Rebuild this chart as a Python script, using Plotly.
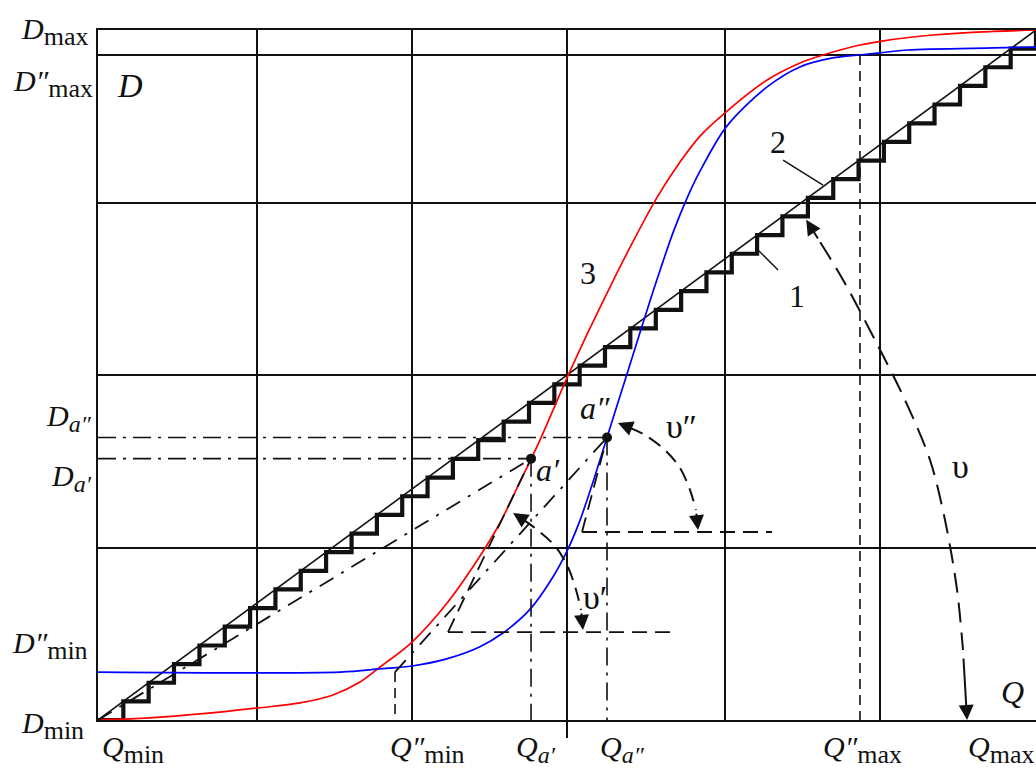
import plotly.graph_objects as go

# ---------------- data (Q along x, D along y) ----------------
Q_MIN, Q_MAX = 0.0, 6.0
D_MIN, D_MAX = 0.0, 4.0
D2_MAX = 3.855          # D''max
D2_MIN = 0.278          # D''min (flat part of the blue curve)
Q2_MIN = 1.90           # Q''min
Q2_MAX = 4.874          # Q''max
QA1, DA1 = 2.77, 1.515  # point a'
QA2, DA2 = 3.256, 1.638 # point a''

grid_q = [0, 1.02, 2.01, 3.0, 4.01, 5.0]
grid_d = [0, 1, 2, 3, D2_MAX, 4]
axis_tick_q = [3.0]

# curve 3 (red)
red_q = [0, 0.333, 0.652, 1.023, 1.292, 1.503, 1.676, 1.804, 2.009, 2.233, 2.456, 2.571, 2.699,
         2.827, 3.0, 3.128, 3.275, 3.403, 3.576, 3.723, 3.851, 4.024, 4.28, 4.491, 4.638, 4.874,
         5.015, 5.341, 5.623, 6.0]
red_d = [0, 0.012, 0.035, 0.07, 0.099, 0.145, 0.22, 0.307, 0.452, 0.678, 0.968, 1.142, 1.38,
         1.623, 1.983, 2.235, 2.51, 2.74, 3.03, 3.235, 3.385, 3.53, 3.71, 3.809, 3.855, 3.913,
         3.936, 3.971, 3.988, 4.0]

# blue curve
blue_q = [0, 1.55, 1.80, 2.01, 2.23, 2.44, 2.59, 2.76, 2.91, 3.006, 3.08, 3.13, 3.17, 3.256,
          3.34, 3.42, 3.51, 3.60, 3.68, 3.77, 3.85, 4.02, 4.28, 4.49, 4.70, 4.87, 5.0, 5.18, 5.73, 6.0]
blue_d = [0.278, 0.278, 0.296, 0.313, 0.354, 0.423, 0.504, 0.638, 0.829, 0.99, 1.15, 1.28, 1.39, 1.638,
          1.88, 2.11, 2.37, 2.62, 2.83, 3.03, 3.18, 3.44, 3.67, 3.786, 3.838, 3.855, 3.867,
          3.884, 3.896, 3.901]

# staircase 2 (37 equal steps along line 1)
step_q = [0, 0.162, 0.324, 0.486, 0.649, 0.811, 0.973, 1.135, 1.297, 1.459, 1.622, 1.784, 1.946,
          2.108, 2.270, 2.432, 2.595, 2.757, 2.919, 3.081, 3.243, 3.405, 3.568, 3.730, 3.892,
          4.054, 4.216, 4.378, 4.541, 4.703, 4.865, 5.027, 5.189, 5.351, 5.514, 5.676, 5.838, 6.0]
step_d = [0, 0.108, 0.216, 0.324, 0.432, 0.541, 0.649, 0.757, 0.865, 0.973, 1.081, 1.189, 1.297,
          1.405, 1.514, 1.622, 1.730, 1.838, 1.946, 2.054, 2.162, 2.270, 2.378, 2.486, 2.595,
          2.703, 2.811, 2.919, 3.027, 3.135, 3.243, 3.351, 3.459, 3.568, 3.676, 3.784, 3.892, 4.0]

# tangents and their horizontal bases
tan1_q, tan1_d = [2.239, QA1], [0.51, DA1]
base1_q, base1_d = [2.239, 3.71], [0.51, 0.51]
tan2_q, tan2_d = [3.096, QA2], [1.09, DA2]
base2_q, base2_d = [3.096, 4.311], [1.09, 1.09]

# angle arcs
arc1_q = [2.655, 2.72, 2.795, 2.923, 3.006, 3.058, 3.09, 3.102]          # upsilon'
arc1_d = [1.2, 1.162, 1.113, 1.009, 0.887, 0.754, 0.638, 0.522]
arc2_q = [3.326, 3.40, 3.499, 3.627, 3.723, 3.787, 3.825, 3.838]          # upsilon''
arc2_d = [1.722, 1.695, 1.652, 1.565, 1.461, 1.333, 1.217, 1.101]
arc3_q = [4.53, 4.62, 4.766, 4.97, 5.162, 5.322, 5.418, 5.495, 5.533, 5.559]  # upsilon
arc3_d = [2.9, 2.77, 2.551, 2.203, 1.855, 1.507, 1.159, 0.754, 0.406, 0.0]

# leader lines for labels 1 and 2
lead1_q, lead1_d = [4.222, 4.35], [2.725, 2.609]
lead2_q, lead2_d = [4.382, 4.638], [3.246, 3.101]

# ---------------- styling ----------------
FONT = "Liberation Serif, Times New Roman, serif"
BLACK = "#111111"
DASHDOT = "18px,7px,3px,7px"
DASH = "15px,8px"

def sub(s, size=26, italic=False):
    inner = "<i>%s</i>" % s if italic else s
    return "<sub><span style='font-size:%dpx'>%s</span></sub>" % (size, inner)

fig = go.Figure()

def line(x, y, width=2, dash="solid", color=BLACK, shape="linear"):
    fig.add_trace(go.Scatter(x=x, y=y, mode="lines", hoverinfo="skip", showlegend=False,
                             line=dict(color=color, width=width, dash=dash, shape=shape,
                                       smoothing=0.9 if shape == "spline" else None)))

# diagonal 1
line([Q_MIN, Q_MAX], [D_MIN, D_MAX], width=1.6)
# staircase 2
sx, sy = [step_q[0]], [step_d[0]]
for k in range(len(step_q) - 1):
    sx += [step_q[k + 1], step_q[k + 1]]
    sy += [step_d[k], step_d[k + 1]]
line(sx, sy, width=4.2)

# curves
line(red_q, red_d, width=1.7, color="#ff0000", shape="spline")
line(blue_q, blue_d, width=1.7, color="#0000ff", shape="spline")

# dash-dot reference lines
line([0, QA2], [DA2, DA2], width=1.6, dash=DASHDOT)
line([0, QA1], [DA1, DA1], width=1.6, dash=DASHDOT)
line([QA1, QA1], [DA1, 0], width=1.6, dash=DASHDOT)
line([QA2, QA2], [DA2, 0], width=1.6, dash=DASHDOT)
line([0, QA1], [0, DA1], width=1.8, dash="16px,9px,3px,9px")
line([Q2_MIN, QA2], [D2_MIN, DA2], width=1.8, dash="16px,9px,3px,9px")

# dashed verticals at Q''min and Q''max
line([Q2_MIN, Q2_MIN], [D2_MIN, 0], width=1.6, dash="10px,6px")
line([Q2_MAX, Q2_MAX], [D2_MAX, 0], width=1.6, dash="10px,6px")

# tangents and bases
line(tan1_q, tan1_d, width=1.8, dash=DASH)
line(base1_q, base1_d, width=1.8, dash=DASH)
line(tan2_q, tan2_d, width=1.8, dash=DASH)
line(base2_q, base2_d, width=1.8, dash=DASH)

# arcs
line(arc1_q[1:-1], arc1_d[1:-1], width=2, dash="14px,8px", shape="spline")
line(arc2_q[1:-1], arc2_d[1:-1], width=2, dash="14px,8px", shape="spline")
line(arc3_q[1:-1], arc3_d[1:-1], width=2, dash="20px,10px", shape="spline")

# leader lines
line(lead1_q, lead1_d, width=1.4)
line(lead2_q, lead2_d, width=1.4)

# points a', a''
fig.add_trace(go.Scatter(x=[QA1, QA2], y=[DA1, DA2], mode="markers", hoverinfo="skip",
                         showlegend=False, cliponaxis=False,
                         marker=dict(color=BLACK, size=10)))

# invisible trace that activates the overlay axis carrying the single tick below Q = 3
fig.add_trace(go.Scatter(x=[None], y=[None], xaxis="x2", mode="lines",
                         hoverinfo="skip", showlegend=False))

annotations = []

def arrow(qs, ds, at_start):
    if at_start:
        tx, ty, nx, ny = qs[0], ds[0], qs[1], ds[1]
    else:
        tx, ty, nx, ny = qs[-1], ds[-1], qs[-2], ds[-2]
    annotations.append(dict(x=tx, y=ty, ax=tx + 0.9 * (nx - tx), ay=ty + 0.9 * (ny - ty),
                            xref="x", yref="y", axref="x", ayref="y", text="",
                            showarrow=True, arrowhead=2, arrowsize=1.5, arrowwidth=2,
                            arrowcolor=BLACK, standoff=0, startstandoff=0))

for qs, ds in [(arc1_q, arc1_d), (arc2_q, arc2_d), (arc3_q, arc3_d)]:
    arrow(qs, ds, True)
    arrow(qs, ds, False)

def text(x, y, s, size=30, xanchor="center", yanchor="middle", xshift=0, yshift=0):
    annotations.append(dict(x=x, y=y, xref="x", yref="y", text=s, showarrow=False,
                            xanchor=xanchor, yanchor=yanchor, xshift=xshift, yshift=yshift,
                            font=dict(family=FONT, size=size, color=BLACK)))

# in-plot labels
text(0.205, 3.68, "<i>D</i>", size=34)
text(5.85, 0.16, "<i>Q</i>", size=32)
text(3.134, 2.59, "3", size=32)
text(4.471, 2.46, "1", size=32)
text(4.35, 3.35, "2", size=32)
text(3.18, 1.81, "<i>a″</i>", size=32)
text(2.88, 1.45, "<i>a′</i>", size=32)
text(3.73, 1.70, "υ″", size=34)
text(3.18, 0.71, "υ′", size=34)
text(5.514, 1.47, "υ", size=34)

# D-axis labels
y_labels = ["<i>D</i>" + sub("max"), "<i>D″</i>" + sub("max"),
            "<i>D</i>" + sub("a″", 24, True), "<i>D</i>" + sub("a′", 24, True),
            "<i>D″</i>" + sub("min"), "<i>D</i>" + sub("min")]
y_vals = [D_MAX, D2_MAX, DA2, DA1, D2_MIN, D_MIN]
y_shift = [-1, -28, 19, -19, 27, -5]
y_xshift = [-8, -3, -4, -4, -8, -12]
for s, v, ys, xs in zip(y_labels, y_vals, y_shift, y_xshift):
    text(Q_MIN, v, s, xanchor="right", yshift=ys, xshift=xs)

# Q-axis labels
x_labels = ["<i>Q</i>" + sub("min"), "<i>Q″</i>" + sub("min"),
            "<i>Q</i>" + sub("a′", 24, True), "<i>Q</i>" + sub("a″", 24, True),
            "<i>Q″</i>" + sub("max"), "<i>Q</i>" + sub("max")]
x_vals = [Q_MIN, Q2_MIN, QA1, QA2, Q2_MAX, Q_MAX]
x_anchor = ["left", "center", "center", "center", "center", "right"]
x_shift = [2, 32, 5, 15, 3, 0]
for s, v, a, xs in zip(x_labels, x_vals, x_anchor, x_shift):
    text(v, D_MIN, s, xanchor=a, xshift=xs, yshift=-29)

fig.update_layout(
    width=1036, height=769,
    margin=dict(l=98, r=0, t=30, b=49, pad=0),
    plot_bgcolor="white", paper_bgcolor="white",
    annotations=annotations,
    xaxis=dict(range=[Q_MIN, Q_MAX], tickvals=grid_q, showticklabels=False, ticks="",
               showgrid=True, gridcolor=BLACK, gridwidth=2, zeroline=False,
               showline=True, mirror=True, linecolor=BLACK, linewidth=2, fixedrange=True),
    xaxis2=dict(range=[Q_MIN, Q_MAX], overlaying="x", anchor="y", side="bottom",
                tickvals=axis_tick_q, ticks="outside", ticklen=17, tickwidth=2, tickcolor=BLACK,
                showticklabels=False, showgrid=False, zeroline=False, showline=False,
                fixedrange=True),
    yaxis=dict(range=[D_MIN, D_MAX], tickvals=grid_d, showticklabels=False, ticks="",
               showgrid=True, gridcolor=BLACK, gridwidth=2, zeroline=False,
               showline=True, mirror=False, linecolor=BLACK, linewidth=2, fixedrange=True),
)

fig.write_html("out.html", config={"displayModeBar": False},
               post_script="document.body.style.margin='0';document.body.style.overflow='hidden';")
